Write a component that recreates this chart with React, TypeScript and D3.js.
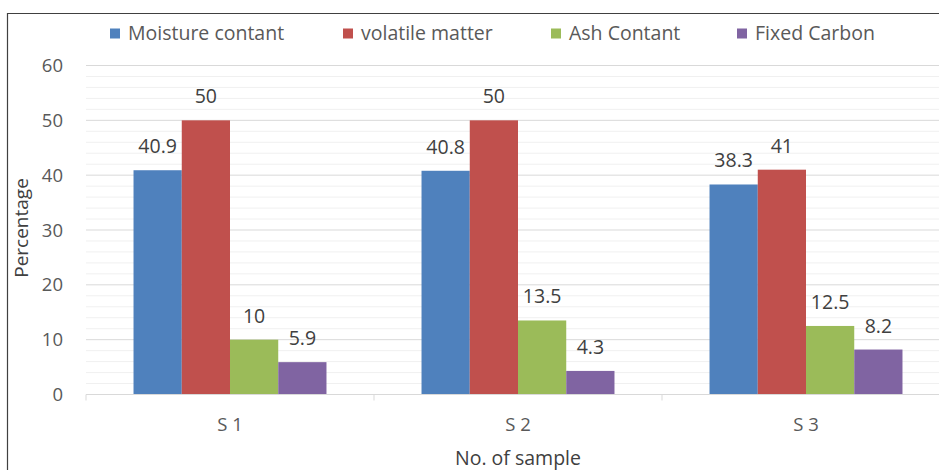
import React from "react";
import * as d3 from "d3";

const categories = ["S 1", "S 2", "S 3"];
const seriesNames = ["Moisture contant", "volatile matter", "Ash Contant", "Fixed Carbon"];
const moisture = [40.9, 40.8, 38.3];
const volatile = [50, 50, 41];
const ash = [10, 13.5, 12.5];
const fixedCarbon = [5.9, 4.3, 8.2];
const yTicks = [0, 10, 20, 30, 40, 50, 60];
const colors = ["#4F81BD", "#C0504D", "#9BBB59", "#8064A2"];

const W = 939;
const H = 470;
const FONT = "'Open Sans', 'Noto Sans', sans-serif";

export default function App() {
  const series = [moisture, volatile, ash, fixedCarbon];
  const left = 86;
  const right = 950;
  const y = d3.scaleLinear().domain([0, 60]).range([394.5, 65.5]);
  const x0 = d3.scaleBand().domain(categories).range([left, right]).paddingInner(0).paddingOuter(0);
  const bw = x0.bandwidth();
  const groupW = bw * 0.67;
  const x1 = d3.scaleBand().domain(seriesNames).range([(bw - groupW) / 2, (bw + groupW) / 2]).padding(0);
  const minor = d3.range(0, 61, 2).filter((v) => v % 10 !== 0);
  const legendX = [110, 343, 551, 737];

  return (
    <svg width={W} height={H} style={{ position: "absolute", left: 0, top: 0, background: "#fff" }}>
      <rect x={0} y={0} width={W} height={H} fill="#fff" />
      {/* border */}
      <line x1={7} y1={13.5} x2={W} y2={13.5} stroke="#404040" strokeWidth={1.2} />
      <line x1={7.5} y1={13} x2={7.5} y2={H} stroke="#404040" strokeWidth={1.2} />

      {/* minor gridlines */}
      {minor.map((v) => (
        <line key={"m" + v} x1={left} x2={right} y1={y(v)} y2={y(v)} stroke="#F0F0F0" strokeWidth={1} />
      ))}
      {/* major gridlines */}
      {yTicks.map((v) => (
        <line key={"g" + v} x1={left} x2={right} y1={y(v)} y2={y(v)} stroke="#D9D9D9" strokeWidth={1} />
      ))}

      {/* bars */}
      {categories.map((c, ci) =>
        series.map((s, si) => {
          const bx = (x0(c) as number) + (x1(seriesNames[si]) as number);
          const top = y(s[ci]);
          return (
            <g key={c + si}>
              <rect x={bx} y={top} width={x1.bandwidth()} height={y(0) - top} fill={colors[si]} />
              <text
                x={bx + x1.bandwidth() / 2}
                y={top - 17}
                textAnchor="middle"
                fontFamily={FONT}
                fontSize={19.5}
                fill="#404040"
              >
                {s[ci]}
              </text>
            </g>
          );
        })
      )}

      {/* x axis */}
      <line x1={left} x2={right} y1={y(0)} y2={y(0)} stroke="#D9D9D9" strokeWidth={1} />
      {d3.range(0, categories.length + 1).map((i) => {
        const tx = left + i * bw;
        return <line key={"t" + i} x1={tx} x2={tx} y1={y(0)} y2={y(0) + 6} stroke="#D9D9D9" strokeWidth={1} />;
      })}
      {categories.map((c) => (
        <text
          key={"xl" + c}
          x={(x0(c) as number) + bw / 2}
          y={431}
          textAnchor="middle"
          fontFamily={FONT}
          fontSize={18.5}
          fill="#595959"
        >
          {c}
        </text>
      ))}

      {/* y tick labels */}
      {yTicks.map((v) => (
        <text
          key={"yl" + v}
          x={63}
          y={y(v) + 6.5}
          textAnchor="end"
          fontFamily={FONT}
          fontSize={18.5}
          fill="#595959"
        >
          {v}
        </text>
      ))}

      {/* axis titles */}
      <text
        x={0}
        y={0}
        transform={`translate(28, ${228}) rotate(-90)`}
        textAnchor="middle"
        fontFamily={FONT}
        fontSize={19}
        fill="#404040"
      >
        Percentage
      </text>
      <text x={518} y={465} textAnchor="middle" fontFamily={FONT} fontSize={19.5} fill="#404040">
        No. of sample
      </text>

      {/* legend */}
      {seriesNames.map((n, i) => (
        <g key={"lg" + n}>
          <rect x={legendX[i]} y={28.5} width={10} height={10} fill={colors[i]} />
          <text x={legendX[i] + 18} y={39.5} fontFamily={FONT} fontSize={19.5} fill="#595959">
            {n}
          </text>
        </g>
      ))}
    </svg>
  );
}
